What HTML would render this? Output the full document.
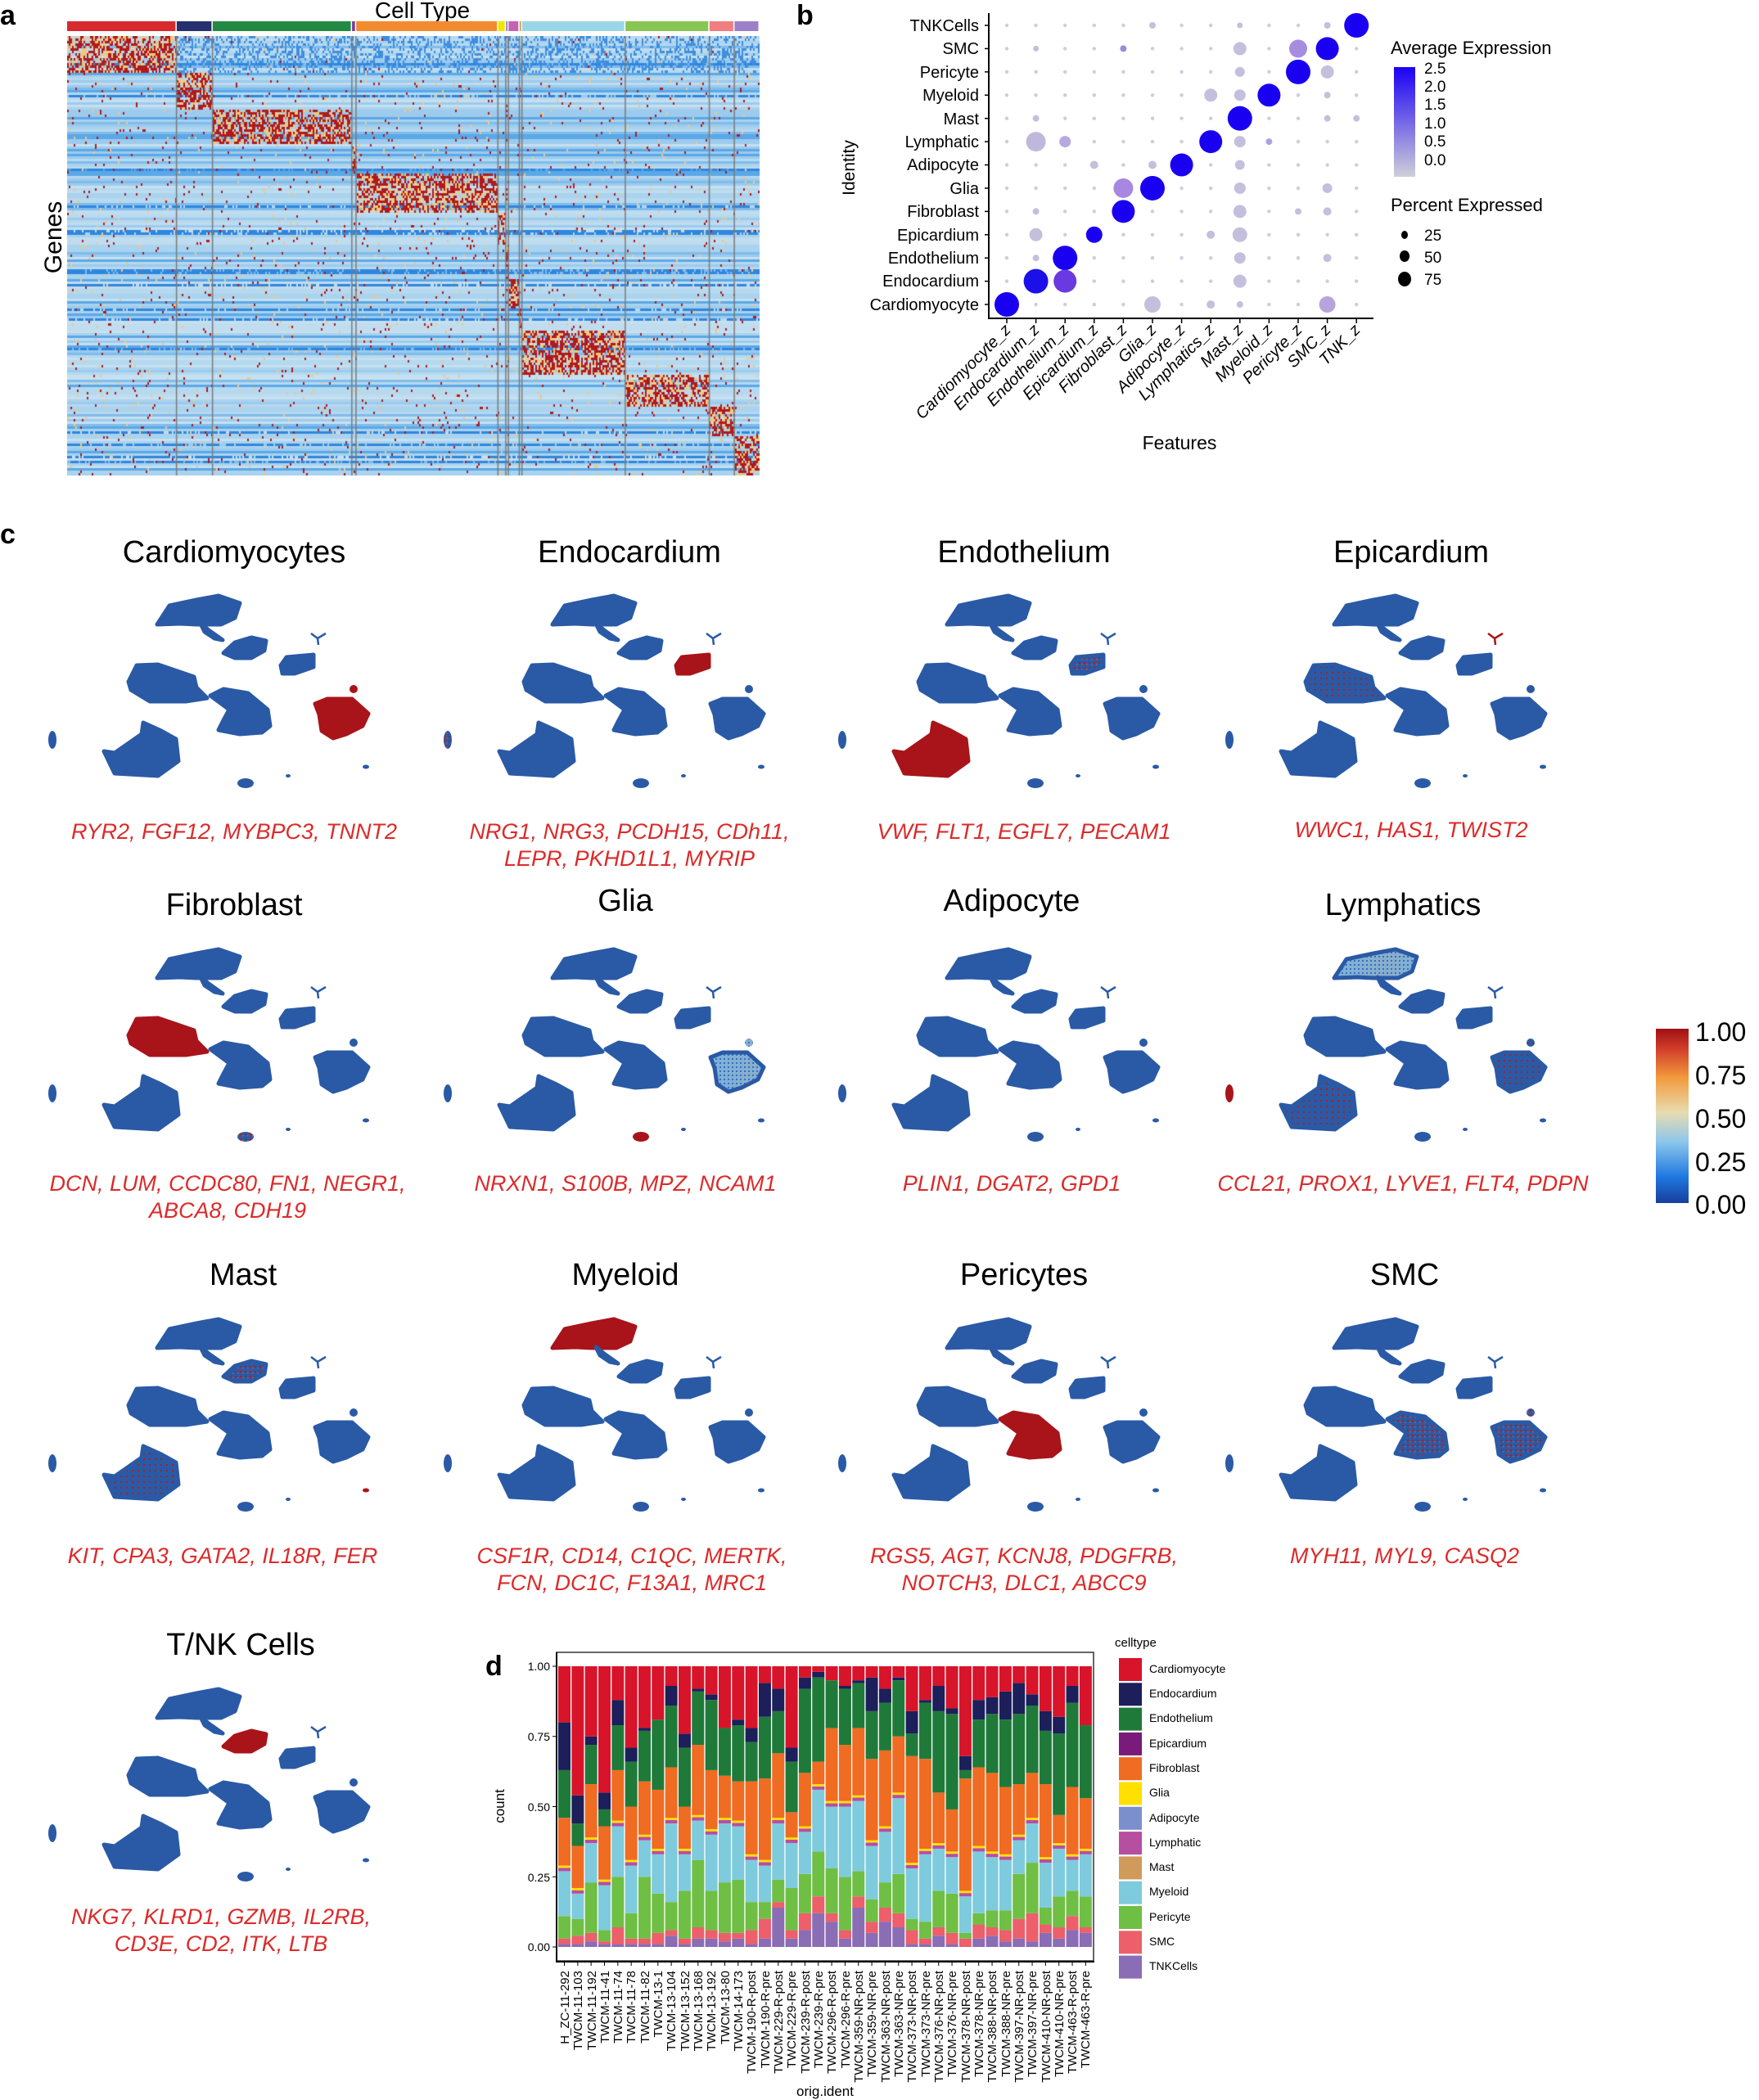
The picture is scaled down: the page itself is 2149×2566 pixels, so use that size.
<!DOCTYPE html>
<html><head><meta charset="utf-8"><style>
html,body{margin:0;padding:0;background:#fff;}
body{width:2149px;height:2566px;position:relative;overflow:hidden;font-family:"Liberation Sans",sans-serif;}
#hm{position:absolute;left:82px;top:44px;}
svg{position:absolute;left:0;top:0;}
</style></head><body>
<canvas id="hm" width="846" height="537"></canvas>
<svg id="S" width="2149" height="2566" xmlns="http://www.w3.org/2000/svg" font-family="Liberation Sans, sans-serif">
<defs>
<pattern id="spk" width="6" height="6" patternUnits="userSpaceOnUse"><rect width="6" height="6" fill="#2a5aa5"/><rect x="1" y="1" width="2" height="2" fill="#b01c1c"/><rect x="4" y="3" width="1.5" height="1.5" fill="#c05050"/></pattern>
<pattern id="spk2" width="7" height="7" patternUnits="userSpaceOnUse"><rect width="7" height="7" fill="#2a5aa5"/><rect x="2" y="2" width="2" height="2" fill="#b01c1c"/></pattern>
<pattern id="lb" width="5" height="5" patternUnits="userSpaceOnUse"><rect width="5" height="5" fill="#7fb0d8"/><rect x="1" y="1" width="2" height="2" fill="#3a70b8"/><rect x="3" y="3" width="1" height="1" fill="#e0a070"/></pattern>
<linearGradient id="cg" x1="0" y1="1" x2="0" y2="0"><stop offset="0" stop-color="#cfcfd8"/><stop offset="1" stop-color="#1a00f5"/></linearGradient>
<linearGradient id="cg2" x1="0" y1="1" x2="0" y2="0"><stop offset="0" stop-color="#163f9c"/><stop offset="0.15" stop-color="#1f78e0"/><stop offset="0.35" stop-color="#8cc6ec"/><stop offset="0.52" stop-color="#e7dcb0"/><stop offset="0.72" stop-color="#f29a3c"/><stop offset="0.88" stop-color="#d2402a"/><stop offset="1" stop-color="#a10f15"/></linearGradient>
</defs>
<text x="0" y="30" font-size="34" font-weight="bold">a</text>
<text x="973" y="30" font-size="34" font-weight="bold">b</text>
<text x="0" y="664" font-size="34" font-weight="bold">c</text>
<text x="593" y="2047" font-size="34" font-weight="bold">d</text>
<text x="516" y="22" font-size="28" text-anchor="middle">Cell Type</text>
<g id="ann"></g>
<text transform="translate(75,290) rotate(-90)" font-size="30" text-anchor="middle">Genes</text>
<g id="dots"></g>
<line x1="1208" y1="16" x2="1208" y2="389" stroke="#000" stroke-width="2"/>
<line x1="1207" y1="389" x2="1678" y2="389" stroke="#000" stroke-width="2"/>
<g font-size="20" text-anchor="end">
<text x="1196" y="38">TNKCells</text><text x="1196" y="66">SMC</text><text x="1196" y="95">Pericyte</text><text x="1196" y="123">Myeloid</text><text x="1196" y="152">Mast</text><text x="1196" y="180">Lymphatic</text><text x="1196" y="208">Adipocyte</text><text x="1196" y="237">Glia</text><text x="1196" y="265">Fibroblast</text><text x="1196" y="294">Epicardium</text><text x="1196" y="322">Endothelium</text><text x="1196" y="350">Endocardium</text><text x="1196" y="379">Cardiomyocyte</text>
</g>
<g font-size="20" font-style="italic" text-anchor="end">
<text transform="translate(1236,404) rotate(-45)">Cardiomyocyte_z</text>
<text transform="translate(1271,404) rotate(-45)">Endocardium_z</text>
<text transform="translate(1307,404) rotate(-45)">Endothelium_z</text>
<text transform="translate(1343,404) rotate(-45)">Epicardium_z</text>
<text transform="translate(1378,404) rotate(-45)">Fibroblast_z</text>
<text transform="translate(1414,404) rotate(-45)">Glia_z</text>
<text transform="translate(1449,404) rotate(-45)">Adipocyte_z</text>
<text transform="translate(1485,404) rotate(-45)">Lymphatics_z</text>
<text transform="translate(1520,404) rotate(-45)">Mast_z</text>
<text transform="translate(1556,404) rotate(-45)">Myeloid_z</text>
<text transform="translate(1592,404) rotate(-45)">Pericyte_z</text>
<text transform="translate(1627,404) rotate(-45)">SMC_z</text>
<text transform="translate(1663,404) rotate(-45)">TNK_z</text>
</g>
<text x="1441" y="549" font-size="23" text-anchor="middle">Features</text>
<text transform="translate(1044,205) rotate(-90)" font-size="21" text-anchor="middle">Identity</text>
<text x="1699" y="66" font-size="22">Average Expression</text>
<rect x="1703" y="82" width="26" height="134" fill="url(#cg)"/>
<g font-size="19"><text x="1740" y="90">2.5</text><text x="1740" y="112">2.0</text><text x="1740" y="134">1.5</text><text x="1740" y="157">1.0</text><text x="1740" y="179">0.5</text><text x="1740" y="202">0.0</text></g>
<text x="1699" y="258" font-size="22">Percent Expressed</text>
<ellipse cx="1716" cy="287" rx="4" ry="5"/><ellipse cx="1716" cy="313" rx="6" ry="7"/><ellipse cx="1716" cy="341" rx="8" ry="9"/>
<g font-size="19"><text x="1740" y="294">25</text><text x="1740" y="321">50</text><text x="1740" y="348">75</text></g>
<g id="umaps"></g>
<g font-size="38" text-anchor="middle">
<text x="286" y="687">Cardiomyocytes</text><text x="769" y="687">Endocardium</text><text x="1251" y="687">Endothelium</text><text x="1724" y="687">Epicardium</text>
<text x="286" y="1118">Fibroblast</text><text x="764" y="1113">Glia</text><text x="1236" y="1113">Adipocyte</text><text x="1714" y="1118">Lymphatics</text>
<text x="297" y="1570">Mast</text><text x="764" y="1570">Myeloid</text><text x="1251" y="1570">Pericytes</text><text x="1716" y="1570">SMC</text>
<text x="294" y="2022">T/NK Cells</text>
</g>
<g font-size="27" font-style="italic" fill="#dc2a2a" text-anchor="middle">
<text x="286" y="1025">RYR2, FGF12, MYBPC3, TNNT2</text>
<text x="769" y="1025">NRG1, NRG3, PCDH15, CDh11,</text><text x="769" y="1058">LEPR, PKHD1L1, MYRIP</text>
<text x="1251" y="1025">VWF, FLT1, EGFL7, PECAM1</text>
<text x="1724" y="1023">WWC1, HAS1, TWIST2</text>
<text x="278" y="1455">DCN, LUM, CCDC80, FN1, NEGR1,</text><text x="278" y="1488">ABCA8, CDH19</text>
<text x="764" y="1455">NRXN1, S100B, MPZ, NCAM1</text>
<text x="1236" y="1455">PLIN1, DGAT2, GPD1</text>
<text x="1714" y="1455">CCL21, PROX1, LYVE1, FLT4, PDPN</text>
<text x="272" y="1910">KIT, CPA3, GATA2, IL18R, FER</text>
<text x="772" y="1910">CSF1R, CD14, C1QC, MERTK,</text><text x="772" y="1943">FCN, DC1C, F13A1, MRC1</text>
<text x="1251" y="1910">RGS5, AGT, KCNJ8, PDGFRB,</text><text x="1251" y="1943">NOTCH3, DLC1, ABCC9</text>
<text x="1716" y="1910">MYH11, MYL9, CASQ2</text>
<text x="270" y="2351">NKG7, KLRD1, GZMB, IL2RB,</text><text x="270" y="2384">CD3E, CD2, ITK, LTB</text>
</g>
<rect x="2023" y="1257" width="40" height="213" fill="url(#cg2)"/>
<g font-size="32"><text x="2071" y="1272">1.00</text><text x="2071" y="1325">0.75</text><text x="2071" y="1378">0.50</text><text x="2071" y="1431">0.25</text><text x="2071" y="1483">0.00</text></g>
<rect x="680" y="2019" width="656" height="377" fill="#fff" stroke="#333" stroke-width="1.5"/>
<g id="bars"></g>
<line x1="680" y1="2019" x2="680" y2="2397" stroke="#000" stroke-width="2"/>
<line x1="679" y1="2397" x2="1337" y2="2397" stroke="#000" stroke-width="2"/>
<g font-size="14" text-anchor="end"><text x="672" y="2041">1.00</text><text x="672" y="2127">0.75</text><text x="672" y="2213">0.50</text><text x="672" y="2299">0.25</text><text x="672" y="2384">0.00</text></g>
<text transform="translate(616,2207) rotate(-90)" font-size="17" text-anchor="middle">count</text>
<text x="1008" y="2561" font-size="17" text-anchor="middle">orig.ident</text>
<text x="1362" y="2012" font-size="15">celltype</text>
<g id="leg"></g>
<g font-size="14">
<text x="1404" y="2044">Cardiomyocyte</text><text x="1404" y="2074">Endocardium</text><text x="1404" y="2104">Endothelium</text><text x="1404" y="2135">Epicardium</text><text x="1404" y="2165">Fibroblast</text><text x="1404" y="2195">Glia</text><text x="1404" y="2226">Adipocyte</text><text x="1404" y="2256">Lymphatic</text><text x="1404" y="2286">Mast</text><text x="1404" y="2316">Myeloid</text><text x="1404" y="2347">Pericyte</text><text x="1404" y="2377">SMC</text><text x="1404" y="2407">TNKCells</text>
</g>
<g font-size="15" text-anchor="end">
<text transform="translate(695,2408) rotate(-90)">H_ZC-11-292</text>
<text transform="translate(711,2408) rotate(-90)">TWCM-11-103</text>
<text transform="translate(728,2408) rotate(-90)">TWCM-11-192</text>
<text transform="translate(744,2408) rotate(-90)">TWCM-11-41</text>
<text transform="translate(760,2408) rotate(-90)">TWCM-11-74</text>
<text transform="translate(776,2408) rotate(-90)">TWCM-11-78</text>
<text transform="translate(793,2408) rotate(-90)">TWCM-11-82</text>
<text transform="translate(809,2408) rotate(-90)">TWCM-13-1</text>
<text transform="translate(825,2408) rotate(-90)">TWCM-13-104</text>
<text transform="translate(842,2408) rotate(-90)">TWCM-13-152</text>
<text transform="translate(858,2408) rotate(-90)">TWCM-13-168</text>
<text transform="translate(874,2408) rotate(-90)">TWCM-13-192</text>
<text transform="translate(891,2408) rotate(-90)">TWCM-13-80</text>
<text transform="translate(907,2408) rotate(-90)">TWCM-14-173</text>
<text transform="translate(923,2408) rotate(-90)">TWCM-190-R-post</text>
<text transform="translate(940,2408) rotate(-90)">TWCM-190-R-pre</text>
<text transform="translate(956,2408) rotate(-90)">TWCM-229-R-post</text>
<text transform="translate(972,2408) rotate(-90)">TWCM-229-R-pre</text>
<text transform="translate(989,2408) rotate(-90)">TWCM-239-R-post</text>
<text transform="translate(1005,2408) rotate(-90)">TWCM-239-R-pre</text>
<text transform="translate(1021,2408) rotate(-90)">TWCM-296-R-post</text>
<text transform="translate(1038,2408) rotate(-90)">TWCM-296-R-pre</text>
<text transform="translate(1054,2408) rotate(-90)">TWCM-359-NR-post</text>
<text transform="translate(1070,2408) rotate(-90)">TWCM-359-NR-pre</text>
<text transform="translate(1087,2408) rotate(-90)">TWCM-363-NR-post</text>
<text transform="translate(1103,2408) rotate(-90)">TWCM-363-NR-pre</text>
<text transform="translate(1119,2408) rotate(-90)">TWCM-373-NR-post</text>
<text transform="translate(1136,2408) rotate(-90)">TWCM-373-NR-pre</text>
<text transform="translate(1152,2408) rotate(-90)">TWCM-376-NR-post</text>
<text transform="translate(1168,2408) rotate(-90)">TWCM-376-NR-pre</text>
<text transform="translate(1185,2408) rotate(-90)">TWCM-378-NR-post</text>
<text transform="translate(1201,2408) rotate(-90)">TWCM-378-NR-pre</text>
<text transform="translate(1217,2408) rotate(-90)">TWCM-388-NR-post</text>
<text transform="translate(1234,2408) rotate(-90)">TWCM-388-NR-pre</text>
<text transform="translate(1250,2408) rotate(-90)">TWCM-397-NR-post</text>
<text transform="translate(1266,2408) rotate(-90)">TWCM-397-NR-pre</text>
<text transform="translate(1283,2408) rotate(-90)">TWCM-410-NR-post</text>
<text transform="translate(1299,2408) rotate(-90)">TWCM-410-NR-pre</text>
<text transform="translate(1315,2408) rotate(-90)">TWCM-463-R-post</text>
<text transform="translate(1331,2408) rotate(-90)">TWCM-463-R-pre</text>
</g>
</svg>
<script>
var NS="http://www.w3.org/2000/svg";
function el(p,t,a){var e=document.createElementNS(NS,t);for(var k in a)e.setAttribute(k,a[k]);p.appendChild(e);return e;}
var seed=12345;function rnd(){seed|=0;seed=seed+0x6D2B79F5|0;var t=Math.imul(seed^seed>>>15,1|seed);t=t+Math.imul(t^t>>>7,61|t)^t;return((t^t>>>14)>>>0)/4294967296;}
var cb=[126,336,405,672,680,952,967,972,993,998,1196,1357,1405,1453];
var rb=[120,235,355,460,560,680,780,890,990,1055,1195,1300,1395,1520];
var annC=["#d62a2e","#27306e","#238a43","#7d3a9a","#f28a30","#f5e400","#8c8ccc","#c462b4","#d6a060","#9ad6e6","#88c653","#ef7f80","#9b80c8"];
var W=846,H=537,c=document.getElementById("hm").getContext("2d");
function cx(z){return (z-126)/1327*W;}
var ann=document.getElementById("ann");
for(var g=0;g<13;g++){el(ann,"rect",{x:82+cx(cb[g]),y:26,width:Math.max(2,cx(cb[g+1])-cx(cb[g])-1.5),height:12,fill:annC[g]});}
var blues=["#a9d3ee","#a9d3ee","#b4daf0","#9ccbee","#7fbcec","#5aa8e8","#c6e0f0","#c0dcef","#b8d8ee"];
var cw=2,rh=3;
function grp(b,v){for(var i=0;i<13;i++)if(v<b[i+1])return i;return 12;}
for(var r=0;r<H/rh;r++){var zy=120+(r*rh+1)/H*1400,rg=grp(rb,zy);var base=blues[Math.floor(rnd()*blues.length)];var dark=rnd()<0.1;
 for(var k=0;k<W/cw;k++){var zx=126+(k*cw+1)/W*1327,cg=grp(cb,zx);var col=base;
  if(dark&&rnd()<0.8)col="#2f86de";
  var p=(cg==rg)?0.72:(rg==0?0.01:0.03);
  if(rg==0&&cg!=0&&rnd()<0.35)col="#3f8ee0";
  var q=rnd();if(q<p){col=rnd()<0.65?"#b01a1e":"#f0c880";}
  c.fillStyle=col;c.fillRect(k*cw,r*rh,cw,rh);}}
c.fillStyle="#7a7a7a";for(var g=1;g<13;g++){c.fillRect(cx(cb[g])-1,0,1.5,H);}
var dots=document.getElementById("dots");var colX=function(i){return 1230+i*35.6;},rowY=function(j){return 31+j*28.42;};
var sp={};var B="#1a00f0",G="#c4bfdc";
var S=[[0,12,15,B],[0,5,4,G],[0,11,4,G],[0,8,3.5,G],[1,11,14,B],[1,10,11,"#a58ee0"],[1,8,8,G],[1,4,4,"#9d8ad8"],[1,1,3.5,G],[2,10,15,B],[2,11,8,G],[2,8,6,G],[3,9,14,B],[3,7,8,G],[3,8,7,G],[3,11,4,G],[4,8,15,B],[4,1,4,G],[4,11,4,G],[4,12,4,G],[5,7,14,B],[5,1,12,"#c0b8dc"],[5,2,7,"#b8a8e0"],[5,8,7,G],[5,9,4,"#b0a0e0"],[6,6,14,B],[6,3,5,G],[6,5,5,G],[6,8,6,G],[7,5,15,B],[7,4,12,"#a688e0"],[7,8,7,G],[7,11,6,G],[8,4,14,B],[8,8,8,G],[8,1,4,G],[8,10,4,G],[8,11,5,G],[9,3,10,B],[9,1,8,G],[9,8,9,G],[9,7,5,G],[10,2,15,B],[10,1,4,G],[10,8,7,G],[10,11,5,G],[11,1,15,"#1c10e8"],[11,2,14,"#6a3ae0"],[11,8,8,G],[12,0,15,B],[12,5,10,G],[12,11,10,"#b8a4dc"],[12,7,5,G],[12,8,4,G]];
S.forEach(function(s){sp[s[0]+"_"+s[1]]=s;});
for(var j=0;j<13;j++){el(dots,"line",{x1:1203,y1:rowY(j),x2:1208,y2:rowY(j),stroke:"#000","stroke-width":1.5});
 for(var i=0;i<13;i++){var s=sp[j+"_"+i];if(s)el(dots,"circle",{cx:colX(i),cy:rowY(j),r:s[2],fill:s[3]});else el(dots,"circle",{cx:colX(i),cy:rowY(j),r:2.2,fill:"#cfcbe0"});}}
for(var i=0;i<13;i++)el(dots,"line",{x1:colX(i),y1:389,x2:colX(i),y2:395,stroke:"#000","stroke-width":1.5});
var P={mye:[[152,63],[167,40],[200,33],[227,28],[253,37],[247,55],[230,63],[200,63],[180,62]],
mt:[[205,62],[215,70],[232,82],[222,80],[210,72]],
tnk:[[233,98],[247,85],[267,79],[285,83],[283,95],[267,104],[247,104]],
endoc:[[303,113],[310,103],[343,100],[343,115],[320,123],[305,123]],
fib:[[117,133],[127,113],[153,112],[197,127],[200,140],[213,153],[187,157],[143,157],[120,143]],
per:[[217,150],[233,142],[263,147],[287,167],[290,187],[280,195],[253,197],[227,192],[233,180],[240,167]],
car:[[345,160],[360,154],[390,154],[410,172],[403,187],[383,197],[367,202],[353,193],[350,173]],
endo:[[87,218],[100,220],[133,197],[135,183],[157,193],[175,203],[178,230],[153,248],[100,245]]};
var BL="#2a5aa5",RD="#a8141a";
function umap(ox,oy,h){var g=el(document.getElementById("umaps"),"g",{transform:"translate("+ox+","+oy+")"});
 for(var k in P){var f=h[k]||BL;el(g,"polygon",{points:P[k].map(function(p){return p.join(",")}).join(" "),fill:f,"stroke-linejoin":"round",stroke:f.indexOf("url")==0?BL:f,"stroke-width":5});}
 el(g,"circle",{cx:392,cy:142,r:5,fill:h.car2||h.car||BL});
 el(g,"ellipse",{cx:24,cy:204,rx:5,ry:11,fill:h.left||BL});
 el(g,"ellipse",{cx:260,cy:257,rx:10,ry:6,fill:h.bot||BL});
 el(g,"ellipse",{cx:312,cy:248,rx:3,ry:2,fill:BL});
 el(g,"ellipse",{cx:407,cy:237,rx:4,ry:2.5,fill:h.tiny||BL});
 el(g,"path",{d:"M340,74 L348,80 L358,74 M348,80 L349,88",stroke:h.star||BL,"stroke-width":2.5,fill:"none"});}
var X=[40,523,1005,1478],Y=[700,1132,1584,2036];
umap(X[0],Y[0],{car:RD});
umap(X[1],Y[0],{endoc:RD,left:"url(#spk)"});
umap(X[2],Y[0],{endo:RD,endoc:"url(#spk)"});
umap(X[3],Y[0],{fib:"url(#spk2)",star:RD});
umap(X[0],Y[1],{fib:RD,bot:"url(#spk)"});
umap(X[1],Y[1],{car:"url(#lb)",bot:RD});
umap(X[2],Y[1],{});
umap(X[3],Y[1],{mye:"url(#lb)",left:RD,car:"url(#spk2)",endo:"url(#spk2)"});
umap(X[0],Y[2],{tnk:"url(#spk)",endo:"url(#spk2)",tiny:RD});
umap(X[1],Y[2],{mye:RD});
umap(X[2],Y[2],{per:RD});
umap(X[3],Y[2],{per:"url(#spk)",car:"url(#spk)"});
umap(X[0],Y[3],{tnk:RD});
var D=[[.01,.03,.11,.27,.46,.63,.80],[.01,.04,.10,.19,.36,.44,.54],[.02,.05,.23,.37,.58,.72,.75],[.01,.02,.06,.22,.43,.49,.55],[.01,.07,.25,.43,.63,.79,.88],[.01,.03,.12,.29,.50,.66,.71],[.01,.03,.25,.38,.59,.77,.78],[.01,.05,.19,.33,.56,.81,.81],[.04,.06,.16,.44,.64,.86,.93],[.01,.03,.20,.33,.50,.71,.76],[.03,.07,.31,.45,.72,.91,.92],[.03,.06,.20,.40,.63,.88,.90],[.02,.05,.23,.44,.61,.78,.78],[.03,.05,.24,.43,.59,.79,.81],[.01,.06,.16,.31,.59,.73,.78],[.03,.10,.16,.29,.60,.82,.94],[.14,.16,.24,.44,.69,.84,.92],[.03,.06,.21,.37,.48,.66,.71],[.06,.12,.26,.41,.62,.92,.96],[.12,.18,.34,.56,.66,.96,.98],[.09,.12,.28,.50,.78,.95,.95],[.03,.06,.25,.50,.72,.92,.93],[.14,.18,.27,.52,.78,.94,.95],[.05,.09,.17,.36,.67,.84,.96],[.09,.14,.23,.41,.70,.87,.92],[.07,.12,.26,.53,.75,.95,.96],[.01,.06,.10,.28,.68,.76,.84],[.01,.03,.09,.33,.67,.87,.88],[.04,.07,.20,.35,.55,.84,.93],[.01,.05,.19,.32,.49,.83,.85],[0,.03,.05,.18,.60,.63,.68],[.03,.08,.12,.34,.64,.81,.88],[.04,.07,.13,.32,.62,.83,.89],[.02,.06,.13,.31,.57,.81,.91],[.03,.10,.26,.38,.58,.83,.94],[.02,.12,.30,.44,.62,.86,.90],[.05,.08,.14,.30,.58,.77,.84],[.03,.07,.18,.35,.47,.76,.82],[.06,.11,.20,.31,.57,.87,.93],[.05,.07,.18,.33,.53,.79,.79]];
var bc={TNK:"#8a6db5",SMC:"#ec5f6b",Per:"#6fbf44",My:"#7ecbdd",Ly:"#b74fa0",Gl:"#ffe000",Fi:"#ef6c22",En:"#1f7a3a",Ec:"#1c1f5a",Ca:"#d7142a"};
var bars=document.getElementById("bars");var y0=2379,yh=343;
D.forEach(function(d,i){var x=682+i*16.33;
 var segs=[[0,d[0],bc.TNK],[d[0],d[1],bc.SMC],[d[1],d[2],bc.Per],[d[2],d[3],bc.My],[d[3],d[3]+.012,bc.Ly],[d[3]+.012,d[3]+.02,bc.Gl],[d[3]+.02,d[4],bc.Fi],[d[4],d[5],bc.En],[d[5],d[6],bc.Ec],[d[6],1,bc.Ca]];
 segs.forEach(function(s){if(s[1]>s[0])el(bars,"rect",{x:x,y:y0-s[1]*yh,width:15,height:(s[1]-s[0])*yh,fill:s[2]});});
 el(bars,"line",{x1:x+7.5,y1:2397,x2:x+7.5,y2:2402,stroke:"#000"});});
[0,.25,.5,.75,1].forEach(function(v){el(bars,"line",{x1:675,y1:y0-v*yh,x2:680,y2:y0-v*yh,stroke:"#000"});});
var lc=["#d7142a","#1c1f5a","#1f7a3a","#7a1a7a","#ef6c22","#ffe000","#7b8fcd","#b74fa0","#d09a5a","#7ecbdd","#6fbf44","#ec5f6b","#8a6db5"];
var leg=document.getElementById("leg");lc.forEach(function(col,i){el(leg,"rect",{x:1367,y:2026+i*30.3,width:28,height:28,fill:col});});
</script>
</body></html>
